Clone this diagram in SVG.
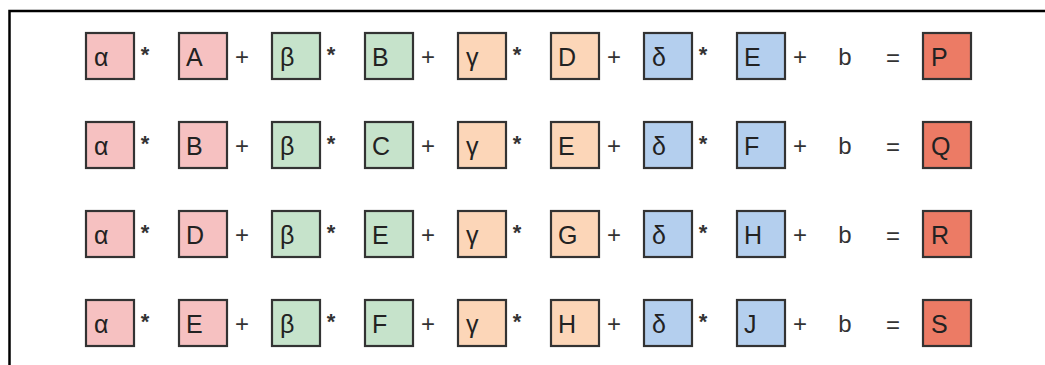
<svg xmlns="http://www.w3.org/2000/svg" width="1045" height="365" viewBox="0 0 1045 365">
  <style>
    .box { stroke: #333; stroke-width: 2.2; }
    .pink { fill: #f6c1c1; }
    .green { fill: #c6e3cb; }
    .peach { fill: #fcd6b8; }
    .blue { fill: #b4cfee; }
    .red { fill: #ec7b65; }
    .lbl { font-family: "Liberation Sans", Arial, sans-serif; font-size: 25px; fill: #222; }
    .op { font-family: "Liberation Sans", Arial, sans-serif; font-size: 24px; fill: #333; text-anchor: middle; }
    .star { font-family: "Liberation Sans", Arial, sans-serif; font-size: 22px; font-weight: bold; fill: #333; text-anchor: middle; }
    .frame { fill: none; stroke: #000; stroke-width: 2.5; }
  </style>

  <!-- open frame: top and left edges only -->
  <path class="frame" d="M9.5 365 V11 H1045"/>

  <!-- row 1: α*A + β*B + γ*D + δ*E + b = P -->
  <g id="row1" transform="translate(0,33)">
    <g id="r1-alpha"><rect class="box pink" x="86" y="0" width="48" height="46"/><text class="lbl" x="94" y="33">α</text></g>
    <text class="star" x="145" y="29">*</text>
    <g id="r1-A"><rect class="box pink" x="179" y="0" width="48" height="46"/><text class="lbl" x="186" y="33">A</text></g>
    <text class="op" x="242" y="32">+</text>
    <g id="r1-beta"><rect class="box green" x="272" y="0" width="48" height="46"/><text class="lbl" x="280" y="33">β</text></g>
    <text class="star" x="331" y="29">*</text>
    <g id="r1-B"><rect class="box green" x="365" y="0" width="48" height="46"/><text class="lbl" x="372" y="33">B</text></g>
    <text class="op" x="428" y="32">+</text>
    <g id="r1-gamma"><rect class="box peach" x="458" y="0" width="48" height="46"/><text class="lbl" x="466" y="33">γ</text></g>
    <text class="star" x="517" y="29">*</text>
    <g id="r1-D"><rect class="box peach" x="551" y="0" width="48" height="46"/><text class="lbl" x="558" y="33">D</text></g>
    <text class="op" x="614" y="32">+</text>
    <g id="r1-delta"><rect class="box blue" x="644" y="0" width="48" height="46"/><text class="lbl" x="652" y="33">δ</text></g>
    <text class="star" x="703" y="29">*</text>
    <g id="r1-E"><rect class="box blue" x="737" y="0" width="48" height="46"/><text class="lbl" x="744" y="33">E</text></g>
    <text class="op" x="800" y="32">+</text>
    <text class="op" x="845" y="32">b</text>
    <text class="op" x="893" y="33">=</text>
    <g id="r1-P"><rect class="box red" x="923" y="0" width="48" height="46"/><text class="lbl" x="931" y="33">P</text></g>
  </g>

  <!-- row 2: α*B + β*C + γ*E + δ*F + b = Q -->
  <g id="row2" transform="translate(0,122)">
    <g id="r2-alpha"><rect class="box pink" x="86" y="0" width="48" height="46"/><text class="lbl" x="94" y="33">α</text></g>
    <text class="star" x="145" y="29">*</text>
    <g id="r2-B"><rect class="box pink" x="179" y="0" width="48" height="46"/><text class="lbl" x="186" y="33">B</text></g>
    <text class="op" x="242" y="32">+</text>
    <g id="r2-beta"><rect class="box green" x="272" y="0" width="48" height="46"/><text class="lbl" x="280" y="33">β</text></g>
    <text class="star" x="331" y="29">*</text>
    <g id="r2-C"><rect class="box green" x="365" y="0" width="48" height="46"/><text class="lbl" x="372" y="33">C</text></g>
    <text class="op" x="428" y="32">+</text>
    <g id="r2-gamma"><rect class="box peach" x="458" y="0" width="48" height="46"/><text class="lbl" x="466" y="33">γ</text></g>
    <text class="star" x="517" y="29">*</text>
    <g id="r2-E"><rect class="box peach" x="551" y="0" width="48" height="46"/><text class="lbl" x="558" y="33">E</text></g>
    <text class="op" x="614" y="32">+</text>
    <g id="r2-delta"><rect class="box blue" x="644" y="0" width="48" height="46"/><text class="lbl" x="652" y="33">δ</text></g>
    <text class="star" x="703" y="29">*</text>
    <g id="r2-F"><rect class="box blue" x="737" y="0" width="48" height="46"/><text class="lbl" x="744" y="33">F</text></g>
    <text class="op" x="800" y="32">+</text>
    <text class="op" x="845" y="32">b</text>
    <text class="op" x="893" y="33">=</text>
    <g id="r2-Q"><rect class="box red" x="923" y="0" width="48" height="46"/><text class="lbl" x="931" y="33">Q</text></g>
  </g>

  <!-- row 3: α*D + β*E + γ*G + δ*H + b = R -->
  <g id="row3" transform="translate(0,211)">
    <g id="r3-alpha"><rect class="box pink" x="86" y="0" width="48" height="46"/><text class="lbl" x="94" y="33">α</text></g>
    <text class="star" x="145" y="29">*</text>
    <g id="r3-D"><rect class="box pink" x="179" y="0" width="48" height="46"/><text class="lbl" x="186" y="33">D</text></g>
    <text class="op" x="242" y="32">+</text>
    <g id="r3-beta"><rect class="box green" x="272" y="0" width="48" height="46"/><text class="lbl" x="280" y="33">β</text></g>
    <text class="star" x="331" y="29">*</text>
    <g id="r3-E"><rect class="box green" x="365" y="0" width="48" height="46"/><text class="lbl" x="372" y="33">E</text></g>
    <text class="op" x="428" y="32">+</text>
    <g id="r3-gamma"><rect class="box peach" x="458" y="0" width="48" height="46"/><text class="lbl" x="466" y="33">γ</text></g>
    <text class="star" x="517" y="29">*</text>
    <g id="r3-G"><rect class="box peach" x="551" y="0" width="48" height="46"/><text class="lbl" x="558" y="33">G</text></g>
    <text class="op" x="614" y="32">+</text>
    <g id="r3-delta"><rect class="box blue" x="644" y="0" width="48" height="46"/><text class="lbl" x="652" y="33">δ</text></g>
    <text class="star" x="703" y="29">*</text>
    <g id="r3-H"><rect class="box blue" x="737" y="0" width="48" height="46"/><text class="lbl" x="744" y="33">H</text></g>
    <text class="op" x="800" y="32">+</text>
    <text class="op" x="845" y="32">b</text>
    <text class="op" x="893" y="33">=</text>
    <g id="r3-R"><rect class="box red" x="923" y="0" width="48" height="46"/><text class="lbl" x="931" y="33">R</text></g>
  </g>

  <!-- row 4: α*E + β*F + γ*H + δ*J + b = S -->
  <g id="row4" transform="translate(0,300)">
    <g id="r4-alpha"><rect class="box pink" x="86" y="0" width="48" height="46"/><text class="lbl" x="94" y="33">α</text></g>
    <text class="star" x="145" y="29">*</text>
    <g id="r4-E"><rect class="box pink" x="179" y="0" width="48" height="46"/><text class="lbl" x="186" y="33">E</text></g>
    <text class="op" x="242" y="32">+</text>
    <g id="r4-beta"><rect class="box green" x="272" y="0" width="48" height="46"/><text class="lbl" x="280" y="33">β</text></g>
    <text class="star" x="331" y="29">*</text>
    <g id="r4-F"><rect class="box green" x="365" y="0" width="48" height="46"/><text class="lbl" x="372" y="33">F</text></g>
    <text class="op" x="428" y="32">+</text>
    <g id="r4-gamma"><rect class="box peach" x="458" y="0" width="48" height="46"/><text class="lbl" x="466" y="33">γ</text></g>
    <text class="star" x="517" y="29">*</text>
    <g id="r4-H"><rect class="box peach" x="551" y="0" width="48" height="46"/><text class="lbl" x="558" y="33">H</text></g>
    <text class="op" x="614" y="32">+</text>
    <g id="r4-delta"><rect class="box blue" x="644" y="0" width="48" height="46"/><text class="lbl" x="652" y="33">δ</text></g>
    <text class="star" x="703" y="29">*</text>
    <g id="r4-J"><rect class="box blue" x="737" y="0" width="48" height="46"/><text class="lbl" x="744" y="33">J</text></g>
    <text class="op" x="800" y="32">+</text>
    <text class="op" x="845" y="32">b</text>
    <text class="op" x="893" y="33">=</text>
    <g id="r4-S"><rect class="box red" x="923" y="0" width="48" height="46"/><text class="lbl" x="931" y="33">S</text></g>
  </g>
</svg>
